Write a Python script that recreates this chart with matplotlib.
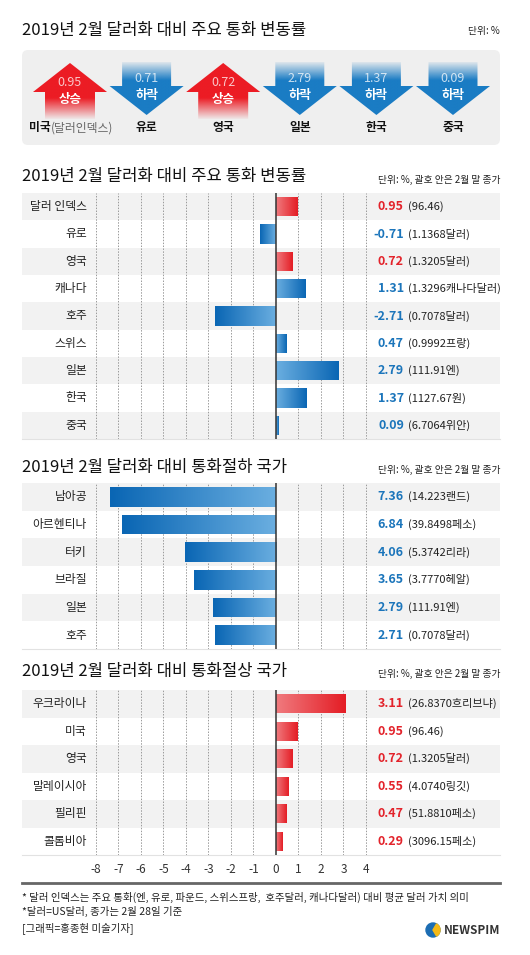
import numpy as np
import matplotlib
matplotlib.use('Agg')
import matplotlib.pyplot as plt
from matplotlib.patches import Polygon, FancyBboxPatch, Circle, Wedge
from matplotlib.colors import to_rgb

plt.rcParams['font.family'] = ['Noto Sans CJK KR', 'DejaVu Sans']
plt.rcParams['axes.unicode_minus'] = False

# ---- data ----
top_names = ['미국', '유로', '영국', '일본', '한국', '중국']
top_notes = ['(달러인덱스)', '', '', '', '', '']
top_vals = [0.95, 0.71, 0.72, 2.79, 1.37, 0.09]
top_rise = [True, False, True, False, False, False]

s1_names = ['달러 인덱스', '유로', '영국', '캐나다', '호주', '스위스', '일본', '한국', '중국']
s1_vals = [0.95, -0.71, 0.72, 1.31, -2.71, 0.47, 2.79, 1.37, 0.09]
s1_close = ['(96.46)', '(1.1368달러)', '(1.3205달러)', '(1.3296캐나다달러)', '(0.7078달러)',
            '(0.9992프랑)', '(111.91엔)', '(1127.67원)', '(6.7064위안)']
s1_rise = [True, False, True, False, False, False, False, False, False]

s2_names = ['남아공', '아르헨티나', '터키', '브라질', '일본', '호주']
s2_vals = [7.36, 6.84, 4.06, 3.65, 2.79, 2.71]
s2_close = ['(14.223랜드)', '(39.8498페소)', '(5.3742리라)', '(3.7770헤알)', '(111.91엔)', '(0.7078달러)']
s2_rise = [False] * 6

s3_names = ['우크라이나', '미국', '영국', '말레이시아', '필리핀', '콜롬비아']
s3_vals = [3.11, 0.95, 0.72, 0.55, 0.47, 0.29]
s3_close = ['(26.8370흐리브냐)', '(96.46)', '(1.3205달러)', '(4.0740링깃)', '(51.8810페소)', '(3096.15페소)']
s3_rise = [True] * 6

ticks = list(range(-8, 5))

titles = ['2019년 2월 달러화 대비 주요 통화 변동률',
          '2019년 2월 달러화 대비 주요 통화 변동률',
          '2019년 2월 달러화 대비 통화절하 국가',
          '2019년 2월 달러화 대비 통화절상 국가']
unit_top = '단위: %'
unit_sec = '단위: %, 괄호 안은 2월 말 종가'
footnotes = ['* 달러 인덱스는 주요 통화(엔, 유로, 파운드, 스위스프랑,  호주달러, 캐나다달러) 대비 평균 달러 가치 의미',
             '*달러=US달러, 종가는 2월 28일 기준',
             '[그래픽=홍종현 미술기자]']

# ---- style ----
W, H = 530, 955
RED = '#e3232b'
BLUE = '#1b75bb'
RED_DARK, RED_LIGHT = '#e41d25', '#f07a7e'
BLUE_DARK, BLUE_LIGHT = '#0a66b4', '#6aaee0'
ARROW_RED = '#ec1c24'
ARROW_BLUE = '#1a7cc4'

fig = plt.figure(figsize=(W / 100, H / 100), dpi=100)
fig.patch.set_facecolor('white')

bg = fig.add_axes([0, 0, 1, 1])
bg.set_xlim(0, W)
bg.set_ylim(H, 0)
bg.axis('off')


def px_axes(x0, y0, x1, y1):
    return fig.add_axes([x0 / W, 1 - y1 / H, (x1 - x0) / W, (y1 - y0) / H])


# ---- titles ----
title_y = [31, 177, 467, 671]
unit_y = [31, 180, 470, 674]
for i, (t, ty, uy) in enumerate(zip(titles, title_y, unit_y)):
    bg.text(22, ty, t, fontsize=12, color='#111', ha='left', va='center')
    bg.text(500, uy, unit_top if i == 0 else unit_sec, fontsize=7, color='#222', ha='right', va='center')

# ---- top arrow panel ----
ax0 = px_axes(22, 50, 500, 145)
ax0.set_xlim(22, 500)
ax0.set_ylim(145, 50)
ax0.axis('off')
ax0.add_patch(FancyBboxPatch((22, 50), 478, 95, boxstyle='round,pad=0,rounding_size=6',
                             fc='#efefef', ec='none', zorder=0))
centers = 70 + 76.6 * np.arange(len(top_names))
yy = np.linspace(60, 120, 200)
for cx, name, note, v, up in zip(centers, top_names, top_notes, top_vals, top_rise):
    if up:
        pts = [(cx, 63), (cx + 37, 92), (cx + 25, 92), (cx + 25, 119), (cx - 25, 119), (cx - 25, 92), (cx - 37, 92)]
        alpha = np.interp(yy, [60, 98, 119], [1, 1, 0.04])
        col = ARROW_RED
    else:
        pts = [(cx - 24.5, 62), (cx + 24.5, 62), (cx + 24.5, 86), (cx + 37, 86), (cx, 115), (cx - 37, 86), (cx - 24.5, 86)]
        alpha = np.interp(yy, [60, 62, 80, 120], [0.04, 0.08, 1, 1])
        col = ARROW_BLUE
    poly = Polygon(pts, closed=True, fc='none', ec='none')
    ax0.add_patch(poly)
    img = np.zeros((len(yy), 1, 4))
    img[:, 0, :3] = to_rgb(col)
    img[:, 0, 3] = alpha
    im = ax0.imshow(img, extent=(cx - 40, cx + 40, 120, 60), origin='upper', aspect='auto',
                    interpolation='bilinear', zorder=1)
    im.set_clip_path(poly)
    ax0.text(cx, 82 if up else 78, f'{v:.2f}', color='white', alpha=0.75, fontsize=9,
             ha='center', va='center', zorder=3)
    ax0.text(cx, 100 if up else 95, '상승' if up else '하락', color='white', fontsize=9,
             fontweight='bold', ha='center', va='center', zorder=3)
    if note:
        ax0.text(cx - 19.5, 128, name, fontsize=8.5, fontweight='bold', color='#111', ha='right', va='center')
        ax0.text(cx - 19.5, 128, note, fontsize=8.5, color='#666', ha='left', va='center')
    else:
        ax0.text(cx, 128, name, fontsize=8.5, fontweight='bold', color='#111', ha='center', va='center')
ax0.set_xlim(22, 500)
ax0.set_ylim(145, 50)


# ---- bar sections ----
def section(ax, names, vals, closes, rise, flip=False, show_ticks=False):
    n = len(names)
    y = np.arange(n)
    for i in range(0, n, 2):
        ax.axhspan(i - 0.5, i + 0.5, color='#f2f2f2', zorder=0, lw=0)
    for t in ticks:
        if t != 0:
            ax.axvline(t, color='#9a9a9a', lw=0.7, ls=(0, (1.5, 1.5)), zorder=1)
    ax.axvline(0, color='#333333', lw=1.1, zorder=4)
    draw = -np.array(vals) if flip else np.array(vals)
    bars = ax.barh(y, draw, height=0.7, zorder=2)
    g = np.linspace(0, 1, 64)
    for b, r, d in zip(bars, rise, draw):
        c_out, c_in = (RED_DARK, RED_LIGHT) if r else (BLUE_DARK, BLUE_LIGHT)
        b.set_facecolor(c_out)
        img = np.zeros((1, 64, 3))
        for k in range(3):
            img[0, :, k] = to_rgb(c_in)[k] + (to_rgb(c_out)[k] - to_rgb(c_in)[k]) * g
        y0, h = b.get_y(), b.get_height()
        im = ax.imshow(img, extent=(0, d, y0 + h, y0), aspect='auto', zorder=3, interpolation='bilinear')
        im.set_clip_path(b)
    tr = ax.get_yaxis_transform()
    for i in range(n):
        ax.text(0.136, i, names[i], transform=tr, ha='right', va='center', fontsize=8.5, color='#222')
        ax.text(0.799, i, f'{vals[i]:.2f}', transform=tr, ha='right', va='center', fontsize=9,
                fontweight='bold', color=RED if rise[i] else BLUE)
        ax.text(0.808, i, closes[i], transform=tr, ha='left', va='center', fontsize=8, color='#222')
    ax.set_xlim(-11.289, 9.956)
    ax.set_ylim(n - 0.5, -0.5)
    ax.set_yticks([])
    for s in ['top', 'left', 'right']:
        ax.spines[s].set_visible(False)
    ax.spines['bottom'].set_color('#e2e2e2')
    ax.spines['bottom'].set_linewidth(0.8)
    ax.set_facecolor('none')
    if show_ticks:
        ax.set_xticks(ticks)
        ax.set_xticklabels([str(t) for t in ticks])
        ax.tick_params(axis='x', length=0, pad=6, labelsize=8.5, labelcolor='#333')
    else:
        ax.set_xticks([])


ax1 = px_axes(22, 193, 500, 439)
section(ax1, s1_names, s1_vals, s1_close, s1_rise)
ax2 = px_axes(22, 483, 500, 649)
section(ax2, s2_names, s2_vals, s2_close, s2_rise, flip=True)
ax3 = px_axes(22, 690, 500, 855)
section(ax3, s3_names, s3_vals, s3_close, s3_rise, show_ticks=True)

# ---- footer ----
bg.plot([22, 500], [883, 883], color='#666666', lw=2)
for fy, line in zip([897, 911, 928], footnotes):
    bg.text(22, fy, line, fontsize=7.5, color='#222', ha='left', va='center')
bg.add_patch(Circle((433, 930), 7, color='#1c6db3'))
bg.add_patch(Wedge((433, 930), 7, -60, 60, color='#f5b915'))
bg.text(500, 930, 'NEWSPIM', fontsize=8.5, fontweight='bold', color='#333', ha='right', va='center')

fig.savefig('out.png', dpi=100)
